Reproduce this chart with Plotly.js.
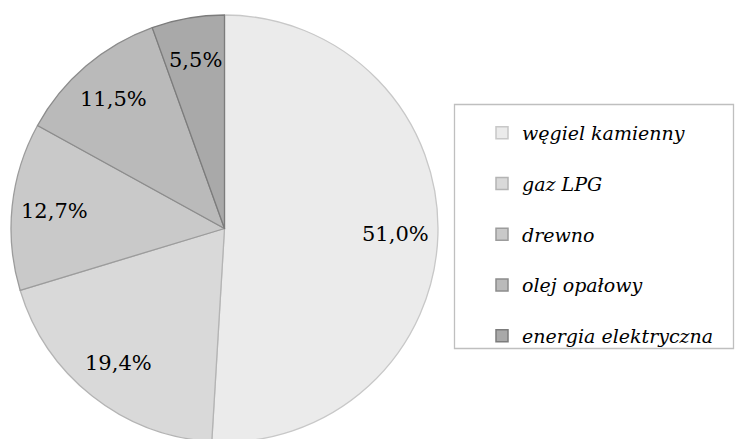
<!DOCTYPE html>
<html>
<head>
<meta charset="utf-8">
<script src="https://cdn.plot.ly/plotly-3.0.1.min.js"></script>
<style>
html,body{margin:0;padding:0;overflow:hidden;background:#fff;}
#chart{width:737px;height:442px;}
</style>
</head>
<body>
<div id="chart"></div>
<script>
const categories = ["węgiel kamienny", "gaz LPG", "drewno", "olej opałowy", "energia elektryczna"];
const shares = [51.0, 19.4, 12.7, 11.5, 5.5];
const fillColors = ["#ebebeb", "#d9d9d9", "#c9c9c9", "#bababa", "#a9a9a9"];
const lineColors = ["#c8c8c8", "#b4b4b4", "#9c9c9c", "#8c8c8c", "#7c7c7c"];

const W = 737, H = 442;
const cx = 224.5, cy = 228.5, R = 213.5;
const labelRadius = 0.8;

const pie = {
  type: "pie",
  labels: categories,
  values: shares,
  sort: false,
  direction: "clockwise",
  rotation: 0,
  showlegend: false,
  marker: {colors: fillColors, line: {color: lineColors, width: 1.3}},
  textinfo: "none",
  hoverinfo: "label+value",
  domain: {x: [(cx - R) / W, (cx + R) / W], y: [(H - (cy + R)) / H, (H - (cy - R)) / H]}
};

// percentage labels placed on each slice's bisector, derived from the values
const total = shares.reduce((a, b) => a + b, 0);
let acc = 0;
const annotations = shares.map((v) => {
  const mid = (acc + v / 2) / total * 2 * Math.PI;
  acc += v;
  const px = cx + labelRadius * R * Math.sin(mid);
  const py = cy - labelRadius * R * Math.cos(mid);
  return {
    xref: "paper", yref: "paper",
    x: px / W, y: 1 - py / H,
    xanchor: "center", yanchor: "middle",
    showarrow: false,
    text: v.toFixed(1).replace(".", ",") + "%",
    font: {family: "DejaVu Serif", size: 21, color: "#000"}
  };
});

const legendTraces = categories.map((c, i) => ({
  type: "scatter",
  mode: "markers",
  x: [null], y: [null],
  name: c,
  legendgroup: "g" + i,
  showlegend: true,
  marker: {symbol: "square", size: 12, color: fillColors[i], line: {color: lineColors[i], width: 1.5}},
  hoverinfo: "skip"
}));

const layout = {
  width: W, height: H,
  margin: {l: 0, r: 0, t: 0, b: 0},
  paper_bgcolor: "#ffffff",
  plot_bgcolor: "rgba(0,0,0,0)",
  separators: ",.",
  xaxis: {visible: false},
  yaxis: {visible: false},
  showlegend: true,
  legend: {
    x: 482 / W, xanchor: "left",
    y: 1 - 114 / H, yanchor: "top",
    bgcolor: "rgba(0,0,0,0)",
    borderwidth: 0,
    tracegroupgap: 23,
    font: {family: "DejaVu Serif", size: 19, color: "#000", style: "italic"}
  },
  annotations: annotations,
  shapes: [{
    type: "rect", xref: "paper", yref: "paper",
    x0: 454.5 / W, x1: 733.5 / W, y0: 1 - 348.5 / H, y1: 1 - 104.5 / H,
    line: {color: "#bfbfbf", width: 1.3}, fillcolor: "rgba(0,0,0,0)", layer: "below"
  }]
};

Plotly.newPlot("chart", [pie].concat(legendTraces), layout, {displayModeBar: false, staticPlot: true});
</script>
</body>
</html>
